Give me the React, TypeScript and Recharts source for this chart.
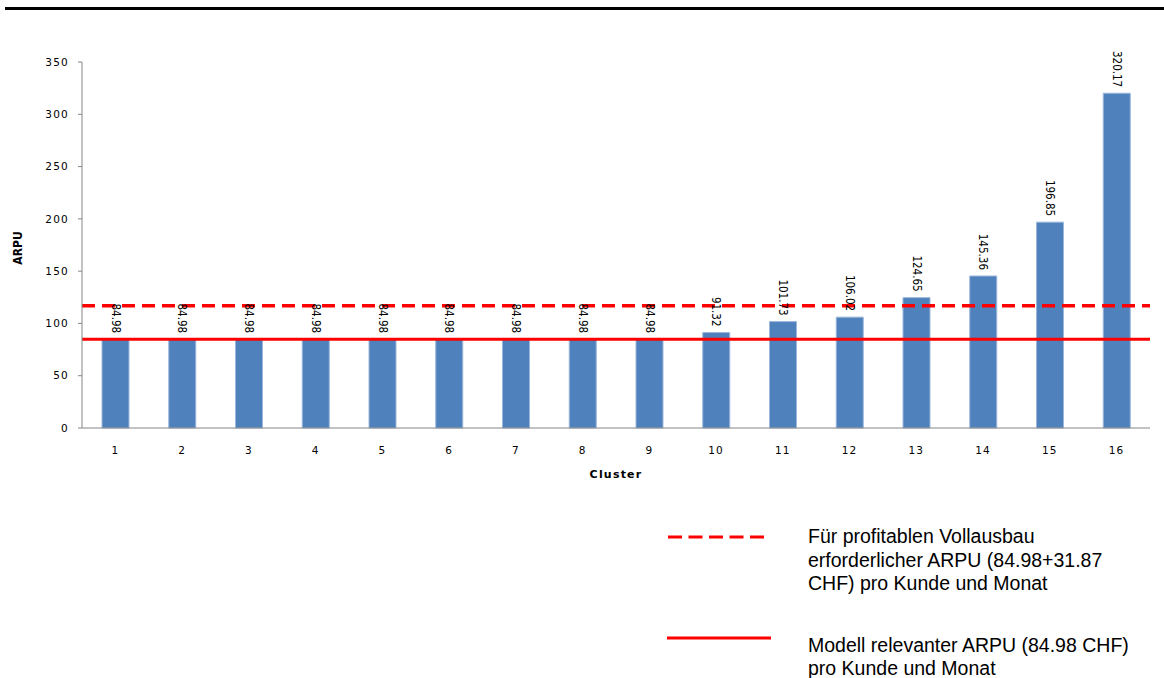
import { BarChart, Bar, XAxis, YAxis, ReferenceLine, LabelList } from "recharts";

const clusters = ["1", "2", "3", "4", "5", "6", "7", "8", "9", "10", "11", "12", "13", "14", "15", "16"];
const arpu = [84.98, 84.98, 84.98, 84.98, 84.98, 84.98, 84.98, 84.98, 84.98, 91.32, 101.73, 106.02, 124.65, 145.36, 196.85, 320.17];
const yTicks = [0, 50, 100, 150, 200, 250, 300, 350];
const modelArpu = 84.98;
const requiredArpu = 84.98 + 31.87;
const legendRequired = ["Für profitablen Vollausbau", "erforderlicher ARPU (84.98+31.87", "CHF) pro Kunde und Monat"];
const legendModel = ["Modell relevanter ARPU (84.98 CHF)", "pro Kunde und Monat"];

const data = clusters.map((c, i) => ({ cluster: c, arpu: arpu[i] }));

const tickFont = { fontFamily: "DejaVu Sans", fontSize: 10.5, fill: "#000", letterSpacing: 1.2 };

const BarValue = (props: any) => {
    const { x, y, width, value } = props;
    const cx = x + width / 2;
    const ty = y - 6;
    return (
        <text
            x={cx}
            y={ty}
            transform={`rotate(90, ${cx}, ${ty})`}
            textAnchor="end"
            dominantBaseline="central"
            fontFamily="Liberation Sans Narrow, DejaVu Sans Condensed, sans-serif"
            fontSize={11.5}
            fill="#000"
        >
            {value.toFixed(2)}
        </text>
    );
};

const App = () => {
    return (
        <div style={{ position: "absolute", left: 0, top: 0, width: 1164, height: 678, background: "#fff" }}>
            <div style={{ position: "absolute", left: 5, top: 7, width: 1159, height: 3, background: "#000" }} />
            <div style={{ position: "absolute", left: 0, top: 0 }}>
                <BarChart width={1164} height={480} data={data} margin={{ top: 62, right: 14, bottom: 22, left: 0 }}>
                    <XAxis
                        dataKey="cluster"
                        height={30}
                        stroke="#868686"
                        tickLine={false}
                        tick={tickFont}
                        tickMargin={13}
                    />
                    <YAxis
                        width={82}
                        domain={[0, 350]}
                        ticks={yTicks}
                        stroke="#868686"
                        tickSize={4}
                        tick={tickFont}
                        tickMargin={9}
                    />
                    <Bar dataKey="arpu" fill="#4F81BD" stroke="#9BB7DA" strokeWidth={1} barSize={27} isAnimationActive={false}>
                        <LabelList dataKey="arpu" content={BarValue} />
                    </Bar>
                    <ReferenceLine y={requiredArpu} stroke="#FF0000" strokeWidth={3.5} strokeDasharray="13 7" />
                    <ReferenceLine y={modelArpu} stroke="#FF0000" strokeWidth={3} />
                </BarChart>
            </div>
            <svg style={{ position: "absolute", left: 0, top: 0 }} width={1164} height={678}>
                <text x={616} y={478} textAnchor="middle" fontFamily="DejaVu Sans" fontSize={11} fontWeight="bold" letterSpacing={1.2} fill="#000">Cluster</text>
                <text x={22} y={248} transform="rotate(-90, 22, 248)" textAnchor="middle" fontFamily="Liberation Sans Narrow, DejaVu Sans Condensed, sans-serif" fontSize={12} fontWeight="bold" fill="#000">ARPU</text>
                <line x1={668} y1={537} x2={765} y2={537} stroke="#FF0000" strokeWidth={3} strokeDasharray="14 6.5" />
                <line x1={667} y1={638} x2={771} y2={638} stroke="#FF0000" strokeWidth={3} />
                {legendRequired.map((t, i) => (
                    <text key={t} x={808} y={543 + i * 23.5} fontFamily="Liberation Sans, Arial, sans-serif" fontSize={19.5} fill="#000">{t}</text>
                ))}
                {legendModel.map((t, i) => (
                    <text key={t} x={808} y={652 + i * 23} fontFamily="Liberation Sans, Arial, sans-serif" fontSize={19.5} fill="#000">{t}</text>
                ))}
            </svg>
        </div>
    );
};

export default App;
